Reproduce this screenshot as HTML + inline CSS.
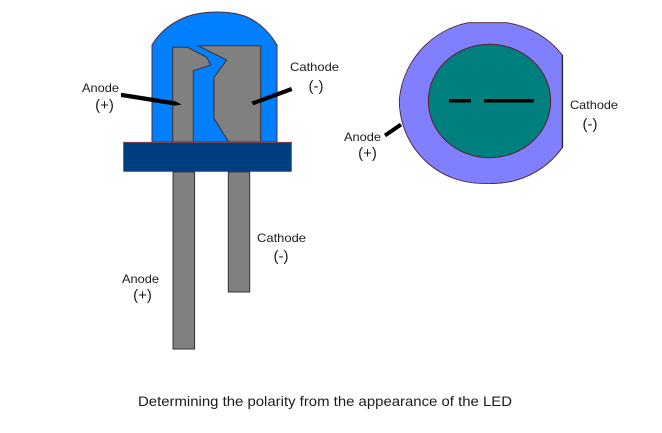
<!DOCTYPE html>
<html><head><meta charset="utf-8"><style>
html,body{margin:0;padding:0;background:#fff}
svg{display:block}
text{font-family:"Liberation Sans",sans-serif;fill:#1c1c1c}
</style></head><body>
<svg width="662" height="433" viewBox="0 0 662 433" xmlns="http://www.w3.org/2000/svg">
<path d="M152 142V45Q163 26 187 16.5Q200 12 217 12Q235 12 247 17Q265 25 277 45V142Z" fill="#007fff" stroke="#5a2a30" stroke-width="1"/>
<path d="M172.7 142V47.3H187.3L206.7 57.3L210.7 65L193.3 70.7V142Z" fill="#808080" stroke="#40302f" stroke-width="1"/>
<path d="M198.3 45.7H260.7V142H228.7L214 118.3V77.3L226.7 60Z" fill="#808080" stroke="#40302f" stroke-width="1"/>
<rect x="123.3" y="142.3" width="168.4" height="29.4" fill="#003f7f"/>
<path d="M123 142.3H292" stroke="#a04040" stroke-width="0.8"/>
<rect x="173" y="172" width="21.6" height="177" fill="#808080" stroke="#333" stroke-width="1"/>
<rect x="228.3" y="172" width="21.4" height="120" fill="#808080" stroke="#333" stroke-width="1"/>
<path d="M121 92.7L175 101.3L181.7 104.5L175 105.6L121 97Z" fill="#000"/>
<path d="M291 87L292.5 91L253.5 105.2L251.2 101.8Z" fill="#000"/>
<path d="M468.3 22.7H506.7A86 86 0 0 1 562.3 55V147.7A86 86 0 0 1 486.7 183.3A83 83 0 0 1 399.3 100A86 86 0 0 1 468.3 22.7Z" fill="#8080ff" stroke="#4a2030" stroke-width="0.9"/>
<path d="M562.5 55V147.7" stroke="#222" stroke-width="1.2" fill="none"/>
<ellipse cx="489.5" cy="101" rx="61.2" ry="56.7" fill="#007f7f" stroke="#5a2030" stroke-width="1"/>
<rect x="449" y="99" width="22" height="3.5" fill="#000"/>
<rect x="484" y="99" width="50" height="3.5" fill="#000"/>
<path d="M385 135.5L401 124.5" stroke="#000" stroke-width="4" fill="none"/>
<g font-size="12">
<text x="82" y="92" textLength="37" lengthAdjust="spacingAndGlyphs">Anode</text>
<text x="290" y="71" textLength="49" lengthAdjust="spacingAndGlyphs">Cathode</text>
<text x="570" y="109" textLength="48" lengthAdjust="spacingAndGlyphs">Cathode</text>
<text x="344" y="141" textLength="37" lengthAdjust="spacingAndGlyphs">Anode</text>
<text x="257" y="242" textLength="49" lengthAdjust="spacingAndGlyphs">Cathode</text>
<text x="122" y="283" textLength="37" lengthAdjust="spacingAndGlyphs">Anode</text>
</g>
<g font-size="15" text-anchor="middle">
<text x="104.5" y="110">(+)</text>
<text x="316" y="91">(-)</text>
<text x="590" y="129">(-)</text>
<text x="367.5" y="158">(+)</text>
<text x="281" y="261">(-)</text>
<text x="142.5" y="300">(+)</text>
</g>
<text x="138" y="406" font-size="14" textLength="374" lengthAdjust="spacingAndGlyphs">Determining the polarity from the appearance of the LED</text>
</svg>
</body></html>
